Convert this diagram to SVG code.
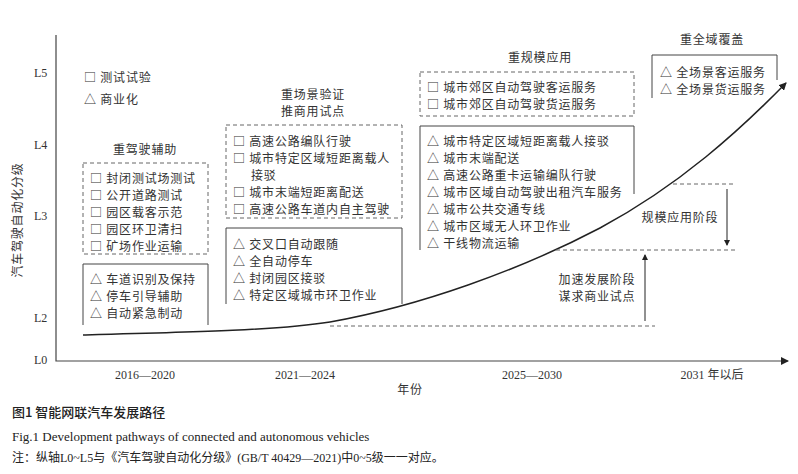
<svg xmlns="http://www.w3.org/2000/svg" width="798" height="474" viewBox="0 0 798 474">
<style>
.t{font-family:"Noto Sans CJK SC",sans-serif;font-size:12px;letter-spacing:0.8px;fill:#333}
.s{font-family:"Liberation Serif","Noto Sans CJK SC",serif;font-size:12px;fill:#333}
.c{text-anchor:middle}
.d{fill:none;stroke:#666;stroke-width:1;stroke-dasharray:4,3}
.b{fill:none;stroke:#444;stroke-width:1}
.ax{stroke:#444;stroke-width:1.2;fill:none}
</style>
<defs>
<marker id="ar" markerWidth="8" markerHeight="8" refX="7" refY="4" orient="auto" markerUnits="userSpaceOnUse"><path d="M0,0 L8,4 L0,8 z" fill="#222"/></marker>
<marker id="as" markerWidth="6" markerHeight="6" refX="5" refY="3" orient="auto-start-reverse" markerUnits="userSpaceOnUse"><path d="M0,0 L6,3 L0,6 z" fill="#222"/></marker>
</defs>
<rect width="798" height="474" fill="#fff"/>
<g id="axes">
<path class="ax" d="M56,35 V361 H788" marker-end="url(#ar)"/>
<text class="s" x="34" y="77">L5</text><text class="s" x="34" y="149">L4</text><text class="s" x="34" y="220">L3</text><text class="s" x="34" y="322">L2</text><text class="s" x="34" y="364">L0</text>
<text class="t" transform="translate(22,220) rotate(-90)" text-anchor="middle">汽车驾驶自动化分级</text>
<text class="s c" x="145" y="379">2016—2020</text><text class="s c" x="305" y="379">2021—2024</text><text class="s c" x="532" y="379">2025—2030</text><text class="s c" x="712" y="379">2031 年以后</text>
<text class="t c" x="410" y="394">年份</text>
</g>
<g id="legend"><text class="t" x="84" y="82">□ 测试试验</text><text class="t" x="84" y="104">△ 商业化</text></g>
<g id="stage1">
<text class="t c" x="145" y="154">重驾驶辅助</text>
<rect class="d" x="83" y="163" width="125" height="91"/>
<text class="t" x="90" y="183">□ 封闭测试场测试</text><text class="t" x="90" y="200">□ 公开道路测试</text><text class="t" x="90" y="217">□ 园区载客示范</text><text class="t" x="90" y="234">□ 园区环卫清扫</text><text class="t" x="90" y="251">□ 矿场作业运输</text>
<path class="b" d="M83,325 V264 H208 V325"/>
<text class="t" x="90" y="284">△ 车道识别及保持</text><text class="t" x="90" y="301">△ 停车引导辅助</text><text class="t" x="90" y="318">△ 自动紧急制动</text>
</g>
<g id="stage2">
<text class="t c" x="313" y="99">重场景验证</text><text class="t c" x="313" y="116">推商用试点</text>
<rect class="d" x="226" y="125" width="176" height="93"/>
<text class="t" x="233" y="146">□ 高速公路编队行驶</text><text class="t" x="233" y="163">□ 城市特定区域短距离载人</text><text class="t" x="251" y="180">接驳</text><text class="t" x="233" y="197">□ 城市末端短距离配送</text><text class="t" x="233" y="214">□ 高速公路车道内自主驾驶</text>
<path class="b" d="M226,304 V228 H402 V304"/>
<text class="t" x="233" y="249">△ 交叉口自动跟随</text><text class="t" x="233" y="266">△ 全自动停车</text><text class="t" x="233" y="283">△ 封闭园区接驳</text><text class="t" x="233" y="300">△ 特定区域城市环卫作业</text>
</g>
<g id="stage3">
<text class="t c" x="540" y="62">重规模应用</text>
<rect class="d" x="420" y="72" width="214" height="44"/>
<text class="t" x="427" y="92">□ 城市郊区自动驾驶客运服务</text><text class="t" x="427" y="109">□ 城市郊区自动驾驶货运服务</text>
<path class="b" d="M420,250 V126 H634 V194"/>
<text class="t" x="427" y="146">△ 城市特定区域短距离载人接驳</text><text class="t" x="427" y="163">△ 城市末端配送</text><text class="t" x="427" y="180">△ 高速公路重卡运输编队行驶</text><text class="t" x="427" y="197">△ 城市区域自动驾驶出租汽车服务</text><text class="t" x="427" y="214">△ 城市公共交通专线</text><text class="t" x="427" y="231">△ 城市区域无人环卫作业</text><text class="t" x="427" y="248">△ 干线物流运输</text>
</g>
<g id="stage4">
<text class="t c" x="712" y="44">重全域覆盖</text>
<path class="b" d="M652,98 V55 H777 V80"/>
<text class="t" x="660" y="77">△ 全场景客运服务</text><text class="t" x="660" y="94">△ 全场景货运服务</text>
</g>
<g id="connectors">
<path d="M83,335 C200,332 280,330 330,322 C420,306 520,270 600,228 C680,185 740,130 786,83" fill="none" stroke="#222" stroke-width="1.5" marker-end="url(#ar)"/>
<path class="d" d="M330,326 H655 M556,250 H735 M673,184 H735"/>
<path stroke="#222" stroke-width="1" d="M645,255 V321 M727,189 V245" marker-start="url(#as)" marker-end="url(#as)"/>
<text class="t c" x="680" y="222">规模应用阶段</text>
<text class="t c" x="597" y="284">加速发展阶段</text><text class="t c" x="597" y="301">谋求商业试点</text>
</g>
<g id="caption">
<text x="12" y="417" style="font-family:'Noto Sans CJK SC',sans-serif;font-size:13px;font-weight:500;fill:#222">图1 智能网联汽车发展路径</text>
<text x="12" y="441" style="font-family:'Liberation Serif',serif;font-size:13px;fill:#222">Fig.1  Development pathways of connected and autonomous vehicles</text>
<text x="12" y="462" style="font-family:'Liberation Serif','Noto Sans CJK SC',serif;font-size:12px;fill:#222">注：纵轴L0~L5与《汽车驾驶自动化分级》(GB/T 40429—2021)中0~5级一一对应。</text>
</g>
</svg>
